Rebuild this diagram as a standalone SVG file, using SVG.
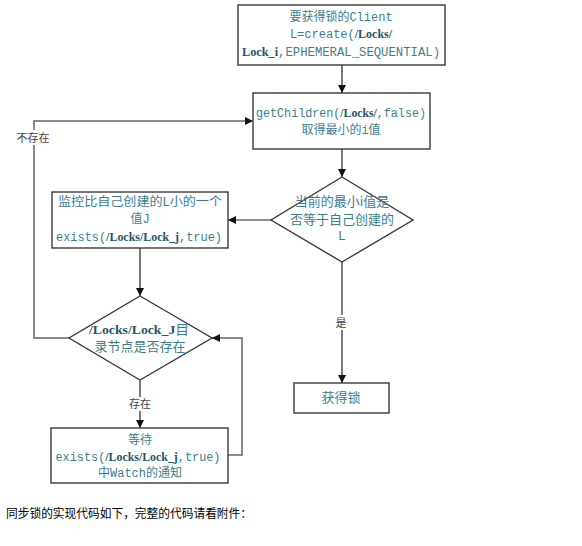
<svg xmlns="http://www.w3.org/2000/svg" width="582" height="546" viewBox="0 0 582 546">
<style>
.box{fill:#fff;stroke:#3a3a3a;stroke-width:1.4}
.t{font-family:"Liberation Mono","Noto Sans CJK SC",monospace;font-size:12px;fill:#3d7e8e;text-anchor:middle}
.c{font-family:"Noto Sans CJK SC",sans-serif}
.b{font-family:"Liberation Serif","Noto Sans CJK SC",serif;font-weight:bold;fill:#245567}
.lbl{font-family:"Noto Sans CJK SC",sans-serif;font-size:11px;fill:#444;text-anchor:middle}
.ln{fill:none;stroke:#222;stroke-width:1.2}
.ln2{fill:none;stroke:#666;stroke-width:1.5}
</style>
<defs>
<marker id="ah" viewBox="0 0 10 10" refX="10" refY="5" markerWidth="8" markerHeight="8" markerUnits="userSpaceOnUse" orient="auto">
<path d="M0,0 L10,5 L0,10 z" fill="#111"/>
</marker>
</defs>
<rect width="582" height="546" fill="#fff"/>
<g id="connectors">
<path class="ln" d="M342,65 V93" marker-end="url(#ah)"/>
<path class="ln" d="M342,149 V177" marker-end="url(#ah)"/>
<path class="ln" d="M271,220 H228" marker-end="url(#ah)"/>
<path class="ln" d="M342,262 V383" marker-end="url(#ah)"/>
<path class="ln" d="M140,248 V296" marker-end="url(#ah)"/>
<path class="ln" d="M140,380 V428" marker-end="url(#ah)"/>
<path class="ln2" d="M228,455 H242 V338 H212" marker-end="url(#ah)"/>
<path class="ln2" d="M69,338 H34 V121 H253" marker-end="url(#ah)"/>
<rect x="334" y="315" width="15" height="15" fill="#fff"/>
<text class="lbl" x="341" y="327">是</text>
<rect x="127" y="397" width="26" height="14" fill="#fff"/>
<text class="lbl" x="140" y="408">存在</text>
<rect x="15" y="130" width="36" height="15" fill="#fff"/>
<text class="lbl" x="33" y="142">不存在</text>
</g>
<g id="n1">
<rect class="box" x="238" y="5" width="207" height="60"/>
<text class="t" x="341" y="21"><tspan class="c">要获得锁的</tspan>Client</text>
<text class="t" x="341" y="38">L=create(<tspan class="b">/Locks/</tspan></text>
<text class="t" x="341" y="56" textLength="198" lengthAdjust="spacingAndGlyphs"><tspan class="b">Lock_i</tspan>,EPHEMERAL_SEQUENTIAL)</text>
</g>
<g id="n2">
<rect class="box" x="253" y="93" width="177" height="56"/>
<text class="t" x="341" y="117" textLength="170" lengthAdjust="spacingAndGlyphs">getChildren(<tspan class="b">/Locks/</tspan>,false)</text>
<text class="t" x="341" y="134"><tspan class="c">取得最小的</tspan>i<tspan class="c">值</tspan></text>
</g>
<g id="n3">
<path class="box" d="M342,177 L413,220 L342,262 L271,220 Z"/>
<text class="t c" x="342" y="206" style="font-size:13px">当前的最小i值是</text>
<text class="t c" x="342" y="224" style="font-size:13px">否等于自己创建的</text>
<text class="t" x="342" y="240" style="font-size:13px">L</text>
</g>
<g id="n4">
<rect class="box" x="52" y="192" width="176" height="56"/>
<text class="t c" x="140" y="206" textLength="164" lengthAdjust="spacingAndGlyphs">监控比自己创建的L小的一个</text>
<text class="t" x="140" y="223"><tspan class="c">值</tspan>J</text>
<text class="t" x="139" y="241" textLength="166" lengthAdjust="spacingAndGlyphs">exists(<tspan class="b">/Locks/Lock_j</tspan>,true)</text>
</g>
<g id="n5">
<path class="box" d="M140,296 L212,338 L140,380 L69,338 Z"/>
<text class="t" x="139" y="334" style="font-size:13px" textLength="100" lengthAdjust="spacingAndGlyphs"><tspan class="b">/Locks/Lock_J</tspan><tspan class="c">目</tspan></text>
<text class="t c" x="140" y="351" style="font-size:13px">录节点是否存在</text>
</g>
<g id="n6">
<rect class="box" x="51" y="428" width="177" height="55"/>
<text class="t c" x="140" y="444">等待</text>
<text class="t" x="138" y="461" textLength="165" lengthAdjust="spacingAndGlyphs">exists(<tspan class="b">/Locks/Lock_j</tspan>,true)</text>
<text class="t" x="140" y="477"><tspan class="c">中</tspan>Watch<tspan class="c">的通知</tspan></text>
</g>
<g id="n7">
<rect class="box" x="294" y="383" width="95" height="30"/>
<text class="t c" x="341" y="402" style="font-size:13px">获得锁</text>
</g>
<text x="6" y="518" font-family="Noto Sans CJK SC, sans-serif" font-size="12" fill="#000" textLength="246" lengthAdjust="spacingAndGlyphs">同步锁的实现代码如下，完整的代码请看附件：</text>
</svg>
